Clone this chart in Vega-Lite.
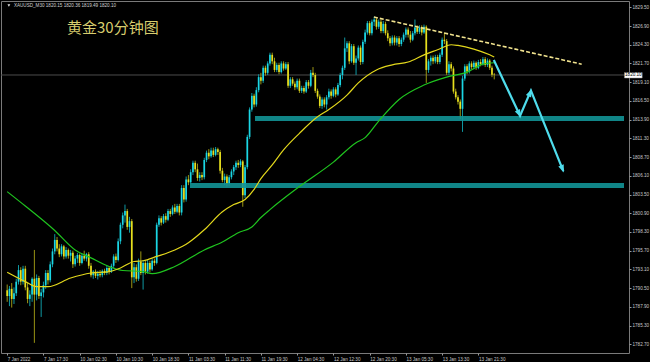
{
"$schema": "https://vega.github.io/schema/vega-lite/v6.json",
"width": 628, "height": 352,
"autosize": {"type": "none"},
"padding": {"left": 1, "top": 1, "right": 21, "bottom": 9},
"background": "#000000",
"config": {"view": {"stroke": "#7a7a7a", "strokeWidth": 1}, "font": "Liberation Sans", "axis": {"labelOverlap": false, "labelBound": false, "labelFlush": false}},
"datasets": {
"candles": [
{"k":0,"o":1790.2,"h":1791.0,"l":1788.6,"c":1789.4},
{"k":1,"o":1789.4,"h":1790.8,"l":1788.0,"c":1790.4},
{"k":2,"o":1790.4,"h":1791.2,"l":1787.8,"c":1789.0},
{"k":3,"o":1789.0,"h":1790.6,"l":1788.3,"c":1789.8},
{"k":4,"o":1789.8,"h":1791.8,"l":1789.4,"c":1791.4},
{"k":5,"o":1791.4,"h":1793.7,"l":1791.0,"c":1793.0},
{"k":6,"o":1793.0,"h":1793.4,"l":1790.9,"c":1791.4},
{"k":7,"o":1791.4,"h":1793.6,"l":1791.0,"c":1793.2},
{"k":8,"o":1793.2,"h":1793.6,"l":1790.2,"c":1790.6},
{"k":9,"o":1790.6,"h":1791.2,"l":1788.4,"c":1789.0},
{"k":10,"o":1789.0,"h":1790.2,"l":1788.0,"c":1789.6},
{"k":11,"o":1789.6,"h":1792.0,"l":1788.6,"c":1791.8},
{"k":12,"o":1791.8,"h":1795.8,"l":1782.9,"c":1789.6},
{"k":13,"o":1789.6,"h":1792.4,"l":1788.8,"c":1791.9},
{"k":14,"o":1791.9,"h":1792.2,"l":1789.0,"c":1789.4},
{"k":15,"o":1789.4,"h":1790.4,"l":1786.5,"c":1789.9},
{"k":16,"o":1789.9,"h":1791.4,"l":1789.2,"c":1790.9},
{"k":17,"o":1790.9,"h":1793.0,"l":1790.4,"c":1792.6},
{"k":18,"o":1792.6,"h":1793.0,"l":1791.0,"c":1791.6},
{"k":19,"o":1791.6,"h":1794.2,"l":1791.3,"c":1793.8},
{"k":20,"o":1793.8,"h":1796.0,"l":1793.4,"c":1795.6},
{"k":21,"o":1795.6,"h":1798.0,"l":1795.2,"c":1797.2},
{"k":22,"o":1797.2,"h":1797.6,"l":1795.6,"c":1796.0},
{"k":23,"o":1796.0,"h":1796.6,"l":1794.8,"c":1795.2},
{"k":24,"o":1795.2,"h":1796.6,"l":1794.9,"c":1796.3},
{"k":25,"o":1796.3,"h":1796.5,"l":1794.5,"c":1794.9},
{"k":26,"o":1794.9,"h":1796.2,"l":1794.6,"c":1795.8},
{"k":27,"o":1795.8,"h":1796.0,"l":1794.6,"c":1795.0},
{"k":28,"o":1795.0,"h":1795.8,"l":1794.2,"c":1795.4},
{"k":29,"o":1795.4,"h":1795.7,"l":1793.3,"c":1793.8},
{"k":30,"o":1793.8,"h":1795.0,"l":1793.5,"c":1794.6},
{"k":31,"o":1794.6,"h":1795.4,"l":1794.0,"c":1795.1},
{"k":32,"o":1795.1,"h":1795.3,"l":1793.6,"c":1794.0},
{"k":33,"o":1794.0,"h":1795.3,"l":1793.8,"c":1795.0},
{"k":34,"o":1795.0,"h":1795.7,"l":1794.3,"c":1794.6},
{"k":35,"o":1794.6,"h":1795.4,"l":1794.2,"c":1795.2},
{"k":36,"o":1795.2,"h":1795.5,"l":1793.2,"c":1793.6},
{"k":37,"o":1793.6,"h":1794.0,"l":1792.0,"c":1792.3},
{"k":38,"o":1792.3,"h":1793.0,"l":1791.8,"c":1792.8},
{"k":39,"o":1792.8,"h":1793.1,"l":1791.9,"c":1792.2},
{"k":40,"o":1792.2,"h":1792.9,"l":1791.7,"c":1792.5},
{"k":41,"o":1792.5,"h":1793.0,"l":1792.0,"c":1792.3},
{"k":42,"o":1792.3,"h":1793.1,"l":1792.0,"c":1792.9},
{"k":43,"o":1792.9,"h":1793.2,"l":1792.3,"c":1792.6},
{"k":44,"o":1792.6,"h":1793.6,"l":1792.3,"c":1793.3},
{"k":45,"o":1793.3,"h":1793.5,"l":1792.4,"c":1792.8},
{"k":46,"o":1792.8,"h":1793.9,"l":1792.6,"c":1793.6},
{"k":47,"o":1793.6,"h":1795.2,"l":1793.3,"c":1794.9},
{"k":48,"o":1794.9,"h":1795.3,"l":1794.0,"c":1794.4},
{"k":49,"o":1794.4,"h":1797.4,"l":1794.2,"c":1797.0},
{"k":50,"o":1797.0,"h":1799.6,"l":1796.6,"c":1799.3},
{"k":51,"o":1799.3,"h":1801.0,"l":1798.8,"c":1800.6},
{"k":52,"o":1800.6,"h":1802.1,"l":1799.6,"c":1801.2},
{"k":53,"o":1801.2,"h":1801.5,"l":1798.6,"c":1799.0},
{"k":54,"o":1799.0,"h":1800.4,"l":1798.2,"c":1799.8},
{"k":55,"o":1799.8,"h":1800.1,"l":1790.5,"c":1792.0},
{"k":56,"o":1792.0,"h":1794.0,"l":1791.2,"c":1793.4},
{"k":57,"o":1793.4,"h":1793.8,"l":1791.4,"c":1791.8},
{"k":58,"o":1791.8,"h":1794.6,"l":1791.5,"c":1794.2},
{"k":59,"o":1794.2,"h":1795.6,"l":1792.3,"c":1792.6},
{"k":60,"o":1792.6,"h":1794.4,"l":1790.3,"c":1794.0},
{"k":61,"o":1794.0,"h":1794.3,"l":1792.4,"c":1792.8},
{"k":62,"o":1792.8,"h":1794.4,"l":1792.5,"c":1794.0},
{"k":63,"o":1794.0,"h":1794.3,"l":1792.7,"c":1793.1},
{"k":64,"o":1793.1,"h":1794.6,"l":1792.9,"c":1794.3},
{"k":65,"o":1794.3,"h":1794.6,"l":1793.6,"c":1794.0},
{"k":66,"o":1794.0,"h":1799.6,"l":1793.8,"c":1799.3},
{"k":67,"o":1799.3,"h":1800.6,"l":1799.0,"c":1800.2},
{"k":68,"o":1800.2,"h":1800.5,"l":1799.2,"c":1799.6},
{"k":69,"o":1799.6,"h":1800.8,"l":1799.4,"c":1800.5},
{"k":70,"o":1800.5,"h":1800.9,"l":1799.6,"c":1800.0},
{"k":71,"o":1800.0,"h":1801.5,"l":1799.8,"c":1801.2},
{"k":72,"o":1801.2,"h":1801.5,"l":1800.4,"c":1800.8},
{"k":73,"o":1800.8,"h":1802.0,"l":1800.6,"c":1801.7},
{"k":74,"o":1801.7,"h":1802.2,"l":1800.8,"c":1801.1},
{"k":75,"o":1801.1,"h":1802.2,"l":1800.9,"c":1801.9},
{"k":76,"o":1801.9,"h":1802.2,"l":1800.6,"c":1801.0},
{"k":77,"o":1801.0,"h":1804.8,"l":1800.6,"c":1804.4},
{"k":78,"o":1804.4,"h":1804.8,"l":1802.4,"c":1802.8},
{"k":79,"o":1802.8,"h":1806.0,"l":1802.5,"c":1805.6},
{"k":80,"o":1805.6,"h":1806.2,"l":1804.8,"c":1805.2},
{"k":81,"o":1805.2,"h":1807.0,"l":1805.0,"c":1806.6},
{"k":82,"o":1806.6,"h":1808.2,"l":1806.2,"c":1807.9},
{"k":83,"o":1807.9,"h":1808.2,"l":1806.6,"c":1807.0},
{"k":84,"o":1807.0,"h":1807.8,"l":1805.4,"c":1805.8},
{"k":85,"o":1805.8,"h":1806.6,"l":1805.3,"c":1806.2},
{"k":86,"o":1806.2,"h":1806.6,"l":1805.5,"c":1805.9},
{"k":87,"o":1805.9,"h":1808.6,"l":1805.6,"c":1808.3},
{"k":88,"o":1808.3,"h":1809.6,"l":1808.0,"c":1809.3},
{"k":89,"o":1809.3,"h":1809.8,"l":1808.4,"c":1808.8},
{"k":90,"o":1808.8,"h":1810.0,"l":1808.6,"c":1809.6},
{"k":91,"o":1809.6,"h":1810.0,"l":1808.7,"c":1809.0},
{"k":92,"o":1809.0,"h":1810.1,"l":1808.8,"c":1809.8},
{"k":93,"o":1809.8,"h":1810.0,"l":1809.0,"c":1809.4},
{"k":94,"o":1809.4,"h":1809.7,"l":1806.4,"c":1806.8},
{"k":95,"o":1806.8,"h":1807.2,"l":1805.2,"c":1805.5},
{"k":96,"o":1805.5,"h":1806.4,"l":1804.8,"c":1806.0},
{"k":97,"o":1806.0,"h":1806.3,"l":1804.6,"c":1805.0},
{"k":98,"o":1805.0,"h":1806.2,"l":1804.7,"c":1805.9},
{"k":99,"o":1805.9,"h":1807.0,"l":1805.6,"c":1806.7},
{"k":100,"o":1806.7,"h":1807.6,"l":1806.2,"c":1807.3},
{"k":101,"o":1807.3,"h":1808.2,"l":1806.9,"c":1807.9},
{"k":102,"o":1807.9,"h":1808.3,"l":1807.2,"c":1807.6},
{"k":103,"o":1807.6,"h":1808.4,"l":1807.3,"c":1808.1},
{"k":104,"o":1808.1,"h":1808.3,"l":1801.8,"c":1803.4},
{"k":105,"o":1803.4,"h":1807.6,"l":1803.0,"c":1807.3},
{"k":106,"o":1807.3,"h":1811.8,"l":1807.0,"c":1811.5},
{"k":107,"o":1811.5,"h":1815.6,"l":1811.2,"c":1815.3},
{"k":108,"o":1815.3,"h":1817.6,"l":1815.0,"c":1817.2},
{"k":109,"o":1817.2,"h":1817.5,"l":1815.6,"c":1816.0},
{"k":110,"o":1816.0,"h":1818.4,"l":1815.7,"c":1818.0},
{"k":111,"o":1818.0,"h":1820.2,"l":1817.7,"c":1819.8},
{"k":112,"o":1819.8,"h":1820.4,"l":1818.8,"c":1819.3},
{"k":113,"o":1819.3,"h":1821.4,"l":1819.0,"c":1821.1},
{"k":114,"o":1821.1,"h":1821.4,"l":1820.0,"c":1820.4},
{"k":115,"o":1820.4,"h":1822.0,"l":1820.1,"c":1821.7},
{"k":116,"o":1821.7,"h":1823.2,"l":1821.4,"c":1822.9},
{"k":117,"o":1822.9,"h":1823.2,"l":1821.6,"c":1822.0},
{"k":118,"o":1822.0,"h":1822.5,"l":1820.5,"c":1820.8},
{"k":119,"o":1820.8,"h":1821.8,"l":1820.5,"c":1821.5},
{"k":120,"o":1821.5,"h":1821.8,"l":1820.2,"c":1820.5},
{"k":121,"o":1820.5,"h":1822.0,"l":1820.3,"c":1821.7},
{"k":122,"o":1821.7,"h":1822.0,"l":1820.7,"c":1821.0},
{"k":123,"o":1821.0,"h":1821.9,"l":1820.8,"c":1821.6},
{"k":124,"o":1821.6,"h":1821.9,"l":1818.3,"c":1818.6},
{"k":125,"o":1818.6,"h":1819.8,"l":1818.3,"c":1819.5},
{"k":126,"o":1819.5,"h":1819.8,"l":1818.6,"c":1818.9},
{"k":127,"o":1818.9,"h":1819.2,"l":1818.0,"c":1818.4},
{"k":128,"o":1818.4,"h":1819.6,"l":1818.1,"c":1819.3},
{"k":129,"o":1819.3,"h":1819.6,"l":1817.6,"c":1817.9},
{"k":130,"o":1817.9,"h":1818.6,"l":1817.6,"c":1818.3},
{"k":131,"o":1818.3,"h":1818.6,"l":1817.5,"c":1817.8},
{"k":132,"o":1817.8,"h":1819.4,"l":1817.6,"c":1819.1},
{"k":133,"o":1819.1,"h":1819.4,"l":1818.2,"c":1818.6},
{"k":134,"o":1818.6,"h":1820.8,"l":1818.4,"c":1820.4},
{"k":135,"o":1820.4,"h":1821.2,"l":1819.8,"c":1820.1},
{"k":136,"o":1820.1,"h":1820.4,"l":1817.6,"c":1817.9},
{"k":137,"o":1817.9,"h":1818.2,"l":1816.8,"c":1817.1},
{"k":138,"o":1817.1,"h":1817.4,"l":1815.5,"c":1815.8},
{"k":139,"o":1815.8,"h":1817.0,"l":1815.4,"c":1816.7},
{"k":140,"o":1816.7,"h":1817.0,"l":1815.6,"c":1816.0},
{"k":141,"o":1816.0,"h":1817.3,"l":1815.3,"c":1817.0},
{"k":142,"o":1817.0,"h":1818.2,"l":1816.7,"c":1817.8},
{"k":143,"o":1817.8,"h":1818.1,"l":1816.8,"c":1817.2},
{"k":144,"o":1817.2,"h":1818.4,"l":1817.0,"c":1818.1},
{"k":145,"o":1818.1,"h":1818.4,"l":1817.0,"c":1817.4},
{"k":146,"o":1817.4,"h":1819.0,"l":1817.2,"c":1818.7},
{"k":147,"o":1818.7,"h":1820.4,"l":1818.4,"c":1820.1},
{"k":148,"o":1820.1,"h":1821.4,"l":1819.5,"c":1821.1},
{"k":149,"o":1821.1,"h":1825.3,"l":1820.8,"c":1823.8},
{"k":150,"o":1823.8,"h":1824.8,"l":1823.3,"c":1824.5},
{"k":151,"o":1824.5,"h":1824.8,"l":1821.6,"c":1822.0},
{"k":152,"o":1822.0,"h":1824.4,"l":1821.8,"c":1824.1},
{"k":153,"o":1824.1,"h":1824.4,"l":1821.5,"c":1821.8},
{"k":154,"o":1821.8,"h":1822.8,"l":1820.1,"c":1822.4},
{"k":155,"o":1822.4,"h":1824.2,"l":1822.1,"c":1823.9},
{"k":156,"o":1823.9,"h":1824.2,"l":1821.5,"c":1821.9},
{"k":157,"o":1821.9,"h":1825.0,"l":1821.6,"c":1824.7},
{"k":158,"o":1824.7,"h":1826.4,"l":1824.4,"c":1826.0},
{"k":159,"o":1826.0,"h":1827.6,"l":1825.7,"c":1827.3},
{"k":160,"o":1827.3,"h":1827.6,"l":1825.6,"c":1825.9},
{"k":161,"o":1825.9,"h":1827.8,"l":1825.6,"c":1827.5},
{"k":162,"o":1827.5,"h":1828.2,"l":1826.9,"c":1827.8},
{"k":163,"o":1827.8,"h":1828.0,"l":1826.4,"c":1826.8},
{"k":164,"o":1826.8,"h":1827.8,"l":1826.5,"c":1827.5},
{"k":165,"o":1827.5,"h":1827.8,"l":1825.9,"c":1826.2},
{"k":166,"o":1826.2,"h":1827.6,"l":1825.9,"c":1827.2},
{"k":167,"o":1827.2,"h":1827.5,"l":1825.6,"c":1825.9},
{"k":168,"o":1825.9,"h":1826.3,"l":1824.8,"c":1825.2},
{"k":169,"o":1825.2,"h":1825.5,"l":1824.1,"c":1824.5},
{"k":170,"o":1824.5,"h":1825.6,"l":1824.2,"c":1825.3},
{"k":171,"o":1825.3,"h":1825.6,"l":1824.2,"c":1824.6},
{"k":172,"o":1824.6,"h":1825.5,"l":1824.2,"c":1825.2},
{"k":173,"o":1825.2,"h":1825.5,"l":1824.0,"c":1824.4},
{"k":174,"o":1824.4,"h":1825.3,"l":1824.1,"c":1825.0},
{"k":175,"o":1825.0,"h":1826.0,"l":1824.7,"c":1825.7},
{"k":176,"o":1825.7,"h":1826.7,"l":1825.3,"c":1826.4},
{"k":177,"o":1826.4,"h":1826.7,"l":1825.3,"c":1825.7},
{"k":178,"o":1825.7,"h":1826.2,"l":1824.6,"c":1825.0},
{"k":179,"o":1825.0,"h":1826.2,"l":1824.8,"c":1825.9},
{"k":180,"o":1825.9,"h":1827.8,"l":1825.6,"c":1826.7},
{"k":181,"o":1826.7,"h":1827.0,"l":1825.8,"c":1826.1},
{"k":182,"o":1826.1,"h":1827.0,"l":1825.8,"c":1826.7},
{"k":183,"o":1826.7,"h":1827.0,"l":1825.6,"c":1826.0},
{"k":184,"o":1826.0,"h":1827.1,"l":1825.8,"c":1826.8},
{"k":185,"o":1826.8,"h":1827.0,"l":1819.0,"c":1820.8},
{"k":186,"o":1820.8,"h":1822.3,"l":1820.4,"c":1822.0},
{"k":187,"o":1822.0,"h":1822.8,"l":1821.4,"c":1822.5},
{"k":188,"o":1822.5,"h":1822.8,"l":1821.6,"c":1822.0},
{"k":189,"o":1822.0,"h":1822.9,"l":1821.7,"c":1822.6},
{"k":190,"o":1822.6,"h":1822.9,"l":1821.6,"c":1821.9},
{"k":191,"o":1821.9,"h":1823.2,"l":1821.6,"c":1822.9},
{"k":192,"o":1822.9,"h":1825.3,"l":1822.6,"c":1825.0},
{"k":193,"o":1825.0,"h":1826.0,"l":1824.4,"c":1824.8},
{"k":194,"o":1824.8,"h":1825.1,"l":1820.1,"c":1820.4},
{"k":195,"o":1820.4,"h":1822.0,"l":1820.1,"c":1821.6},
{"k":196,"o":1821.6,"h":1821.9,"l":1820.6,"c":1821.0},
{"k":197,"o":1821.0,"h":1821.3,"l":1817.5,"c":1817.8},
{"k":198,"o":1817.8,"h":1818.2,"l":1816.7,"c":1817.0},
{"k":199,"o":1817.0,"h":1817.3,"l":1816.0,"c":1816.4},
{"k":200,"o":1816.4,"h":1816.7,"l":1814.0,"c":1815.4},
{"k":201,"o":1815.4,"h":1820.0,"l":1812.2,"c":1819.6},
{"k":202,"o":1819.6,"h":1821.6,"l":1819.3,"c":1821.3},
{"k":203,"o":1821.3,"h":1821.6,"l":1820.2,"c":1820.6},
{"k":204,"o":1820.6,"h":1822.0,"l":1820.3,"c":1821.7},
{"k":205,"o":1821.7,"h":1822.0,"l":1820.9,"c":1821.2},
{"k":206,"o":1821.2,"h":1822.1,"l":1820.9,"c":1821.8},
{"k":207,"o":1821.8,"h":1822.0,"l":1820.8,"c":1821.1},
{"k":208,"o":1821.1,"h":1822.2,"l":1820.9,"c":1821.9},
{"k":209,"o":1821.9,"h":1822.3,"l":1821.3,"c":1821.6},
{"k":210,"o":1821.6,"h":1822.6,"l":1821.4,"c":1822.3},
{"k":211,"o":1822.3,"h":1822.6,"l":1821.2,"c":1821.5},
{"k":212,"o":1821.5,"h":1822.4,"l":1821.2,"c":1822.1},
{"k":213,"o":1822.1,"h":1822.3,"l":1820.8,"c":1821.1},
{"k":214,"o":1821.1,"h":1821.4,"l":1819.8,"c":1820.15},
{"k":215,"o":1820.15,"h":1820.36,"l":1819.49,"c":1820.10}
],
"maFast": [
{"k":0,"p":1792.7},{"k":8,"p":1791.4},{"k":13,"p":1790.7},{"k":18,"p":1790.7},{"k":28,"p":1791.9},{"k":37,"p":1792.6},{"k":45,"p":1792.8},{"k":50,"p":1793.3},{"k":56,"p":1794.2},{"k":60,"p":1794.3},{"k":66,"p":1794.9},{"k":74,"p":1795.8},{"k":80,"p":1796.8},{"k":87,"p":1798.6},{"k":95,"p":1801.1},{"k":100,"p":1802.1},{"k":105,"p":1802.8},{"k":109,"p":1804.2},{"k":112,"p":1805.7},{"k":117,"p":1807.6},{"k":122,"p":1809.7},{"k":129,"p":1812.0},{"k":137,"p":1814.3},{"k":142,"p":1815.3},{"k":150,"p":1817.3},{"k":155,"p":1819.0},{"k":163,"p":1820.8},{"k":170,"p":1821.5},{"k":177,"p":1821.9},{"k":184,"p":1822.9},{"k":190,"p":1823.6},{"k":196,"p":1824.3},{"k":199,"p":1824.2},{"k":206,"p":1823.7},{"k":213,"p":1822.9},{"k":215,"p":1822.6}
],
"maSlow": [
{"k":0,"p":1803.9},{"k":8,"p":1801.9},{"k":21,"p":1798.5},{"k":30,"p":1795.8},{"k":37,"p":1794.7},{"k":45,"p":1793.5},{"k":51,"p":1792.95},{"k":60,"p":1792.8},{"k":64,"p":1792.5},{"k":74,"p":1793.5},{"k":87,"p":1795.8},{"k":95,"p":1796.9},{"k":102,"p":1798.2},{"k":108,"p":1799.0},{"k":112,"p":1800.3},{"k":116,"p":1801.4},{"k":129,"p":1804.6},{"k":144,"p":1808.0},{"k":154,"p":1810.7},{"k":158,"p":1811.4},{"k":164,"p":1813.7},{"k":173,"p":1816.7},{"k":184,"p":1818.7},{"k":194,"p":1819.8},{"k":203,"p":1820.5},{"k":210,"p":1821.6},{"k":215,"p":1821.8}
],
"bands": [
{"k":109.4,"k2":272.28,"p":1813.71,"p2":1814.4},
{"k":80.7,"k2":272.28,"p":1804.4,"p2":1805.1}
],
"trend": [{"k":161.9,"p":1828.15},{"k":253.6,"p":1821.6}],
"arrow": [{"i":0,"k":214.8,"p":1822.18},{"i":1,"k":226.4,"p":1814.44},{"i":2,"k":231.2,"p":1817.92},{"i":3,"k":245.5,"p":1806.76}],
"heads": [{"i":1,"k":225.84,"p":1814.8},{"i":2,"k":230.7,"p":1817.54},{"i":3,"k":245.0,"p":1807.15}],
"notes": [{"name":"title","k":26.4,"p":1826.56,"t":"黄金30分钟图"},{"name":"header","k":2.96,"p":1829.75,"t":"XAUUSD_M30  1820.15 1820.36 1819.49 1820.10"}],
"last": [{"k":272.5,"k2":280.3,"p":1820.10,"p1":1819.68,"p2":1820.44,"km":276.4,"t":"1820.10"}]
},
"layer": [
{
"data": {"name": "last"},
"mark": {"type": "rule", "color": "#4d4d4d", "strokeWidth": 1},
"encoding": {
"y": {"field": "p", "type": "quantitative", "scale": {"domain": [1781.49, 1830.375], "nice": false, "zero": false},
"axis": {"orient": "right", "title": null, "values": [1782.7,1785.3,1787.9,1790.5,1793.1,1795.7,1798.3,1800.9,1803.5,1806.1,1808.7,1811.3,1813.9,1816.5,1819.1,1821.7,1824.3,1826.9,1829.5], "tickCount": 60, "format": ".2f", "labelFontSize": 4.6, "labelColor": "#c8c8c8", "labelPadding": 1, "tickSize": 2, "tickColor": "#9a9a9a", "domain": false, "grid": false, "labelOverlap": false, "labelBound": false, "labelFlush": false, "labelAlign": "left"}}
}
},
{
"data": {"name": "candles"},
"mark": {"type": "rule", "strokeWidth": 1},
"encoding": {
"x": {"field": "k", "type": "quantitative", "scale": {"domain": [-0.52, 272.28], "nice": false, "zero": false},
"axis": {"orient": "bottom", "title": null, "values": [0,16,32,48,64,80,96,112,128,144,160,176,192,208], "tickCount": 60, "labelExpr": "['7 Jan 2022','7 Jan 17:30','10 Jan 02:30','10 Jan 10:30','10 Jan 18:30','11 Jan 03:30','11 Jan 11:30','11 Jan 19:30','12 Jan 04:30','12 Jan 12:30','12 Jan 20:30','13 Jan 05:30','13 Jan 13:30','13 Jan 21:30'][round(datum.value/16)]", "labelAlign": "left", "labelBaseline": "top", "labelFontSize": 4.6, "labelColor": "#c8c8c8", "labelPadding": 1, "tickSize": 2, "tickColor": "#9a9a9a", "domain": false, "grid": false, "labelOverlap": false, "labelFlush": false, "labelBound": false}},
"y": {"field": "l", "type": "quantitative", "scale": {"domain": [1781.49, 1830.375], "nice": false, "zero": false}},
"y2": {"field": "h"},
"color": {"condition": {"test": "datum.c >= datum.o", "value": "#0f98a2"}, "value": "#9a9414"}
}
},
{
"data": {"name": "candles"},
"mark": {"type": "bar", "size": 1.7, "orient": "vertical"},
"encoding": {
"x": {"field": "k", "type": "quantitative"},
"y": {"field": "o", "type": "quantitative"},
"y2": {"field": "c"},
"color": {"condition": {"test": "datum.c >= datum.o", "value": "#1bd6e4"}, "value": "#e6df1e"}
}
},
{
"data": {"name": "bands"},
"mark": {"type": "rect", "color": "#129496", "opacity": 0.9},
"encoding": {
"x": {"field": "k", "type": "quantitative"},
"x2": {"field": "k2"},
"y": {"field": "p", "type": "quantitative"},
"y2": {"field": "p2"}
}
},
{
"data": {"name": "maSlow"},
"mark": {"type": "line", "color": "#1fc41f", "strokeWidth": 1.2, "interpolate": "monotone"},
"encoding": {
"x": {"field": "k", "type": "quantitative"},
"y": {"field": "p", "type": "quantitative"}
}
},
{
"data": {"name": "maFast"},
"mark": {"type": "line", "color": "#e3d81c", "strokeWidth": 1.2, "interpolate": "monotone"},
"encoding": {
"x": {"field": "k", "type": "quantitative"},
"y": {"field": "p", "type": "quantitative"}
}
},
{
"data": {"name": "trend"},
"mark": {"type": "line", "color": "#f0e28e", "strokeWidth": 1.6, "strokeDash": [4, 2]},
"encoding": {
"x": {"field": "k", "type": "quantitative"},
"y": {"field": "p", "type": "quantitative"}
}
},
{
"data": {"name": "arrow"},
"mark": {"type": "line", "color": "#4fdcec", "strokeWidth": 2.2},
"encoding": {
"x": {"field": "k", "type": "quantitative"},
"y": {"field": "p", "type": "quantitative"},
"order": {"field": "i"}
}
},
{
"data": {"name": "heads"},
"transform": [{"filter": "datum.i == 1"}],
"mark": {"type": "point", "shape": "M0,-1L0.65,0.7L-0.65,0.7Z", "filled": true, "color": "#4fdcec", "opacity": 1, "size": 80, "angle": 154},
"encoding": {
"x": {"field": "k", "type": "quantitative"},
"y": {"field": "p", "type": "quantitative"}
}
},
{
"data": {"name": "heads"},
"transform": [{"filter": "datum.i == 2"}],
"mark": {"type": "point", "shape": "M0,-1L0.65,0.7L-0.65,0.7Z", "filled": true, "color": "#4fdcec", "opacity": 1, "size": 80, "angle": 24},
"encoding": {
"x": {"field": "k", "type": "quantitative"},
"y": {"field": "p", "type": "quantitative"}
}
},
{
"data": {"name": "heads"},
"transform": [{"filter": "datum.i == 3"}],
"mark": {"type": "point", "shape": "M0,-1L0.65,0.7L-0.65,0.7Z", "filled": true, "color": "#4fdcec", "opacity": 1, "size": 80, "angle": 158},
"encoding": {
"x": {"field": "k", "type": "quantitative"},
"y": {"field": "p", "type": "quantitative"}
}
},
{
"data": {"name": "notes"},
"transform": [{"filter": "datum.name == 'title'"}],
"mark": {"type": "text", "font": "Noto Sans CJK SC", "fontSize": 15, "color": "#d8cd6e", "align": "left", "baseline": "middle"},
"encoding": {
"x": {"field": "k", "type": "quantitative"},
"y": {"field": "p", "type": "quantitative"},
"text": {"field": "t"}
}
},
{
"data": {"name": "notes"},
"transform": [{"filter": "datum.name == 'header'"}],
"mark": {"type": "text", "font": "Liberation Sans", "fontSize": 4.6, "color": "#d0d0d0", "align": "left", "baseline": "middle"},
"encoding": {
"x": {"field": "k", "type": "quantitative"},
"y": {"field": "p", "type": "quantitative"},
"text": {"field": "t"}
}
},
{
"data": {"name": "notes"},
"transform": [{"filter": "datum.name == 'header'"}],
"mark": {"type": "point", "shape": "triangle-down", "filled": true, "color": "#e0e0e0", "opacity": 1, "size": 8, "xOffset": -5},
"encoding": {
"x": {"field": "k", "type": "quantitative"},
"y": {"field": "p", "type": "quantitative"}
}
},
{
"data": {"name": "last"},
"mark": {"type": "rect", "color": "#ffffff", "stroke": "#909090", "strokeWidth": 0.5},
"encoding": {
"x": {"field": "k", "type": "quantitative"},
"x2": {"field": "k2"},
"y": {"field": "p1", "type": "quantitative"},
"y2": {"field": "p2"}
}
},
{
"data": {"name": "last"},
"mark": {"type": "text", "font": "Liberation Sans", "fontSize": 4.6, "color": "#000000", "align": "center", "baseline": "middle"},
"encoding": {
"x": {"field": "km", "type": "quantitative"},
"y": {"field": "p", "type": "quantitative"},
"text": {"field": "t"}
}
}
]
}
